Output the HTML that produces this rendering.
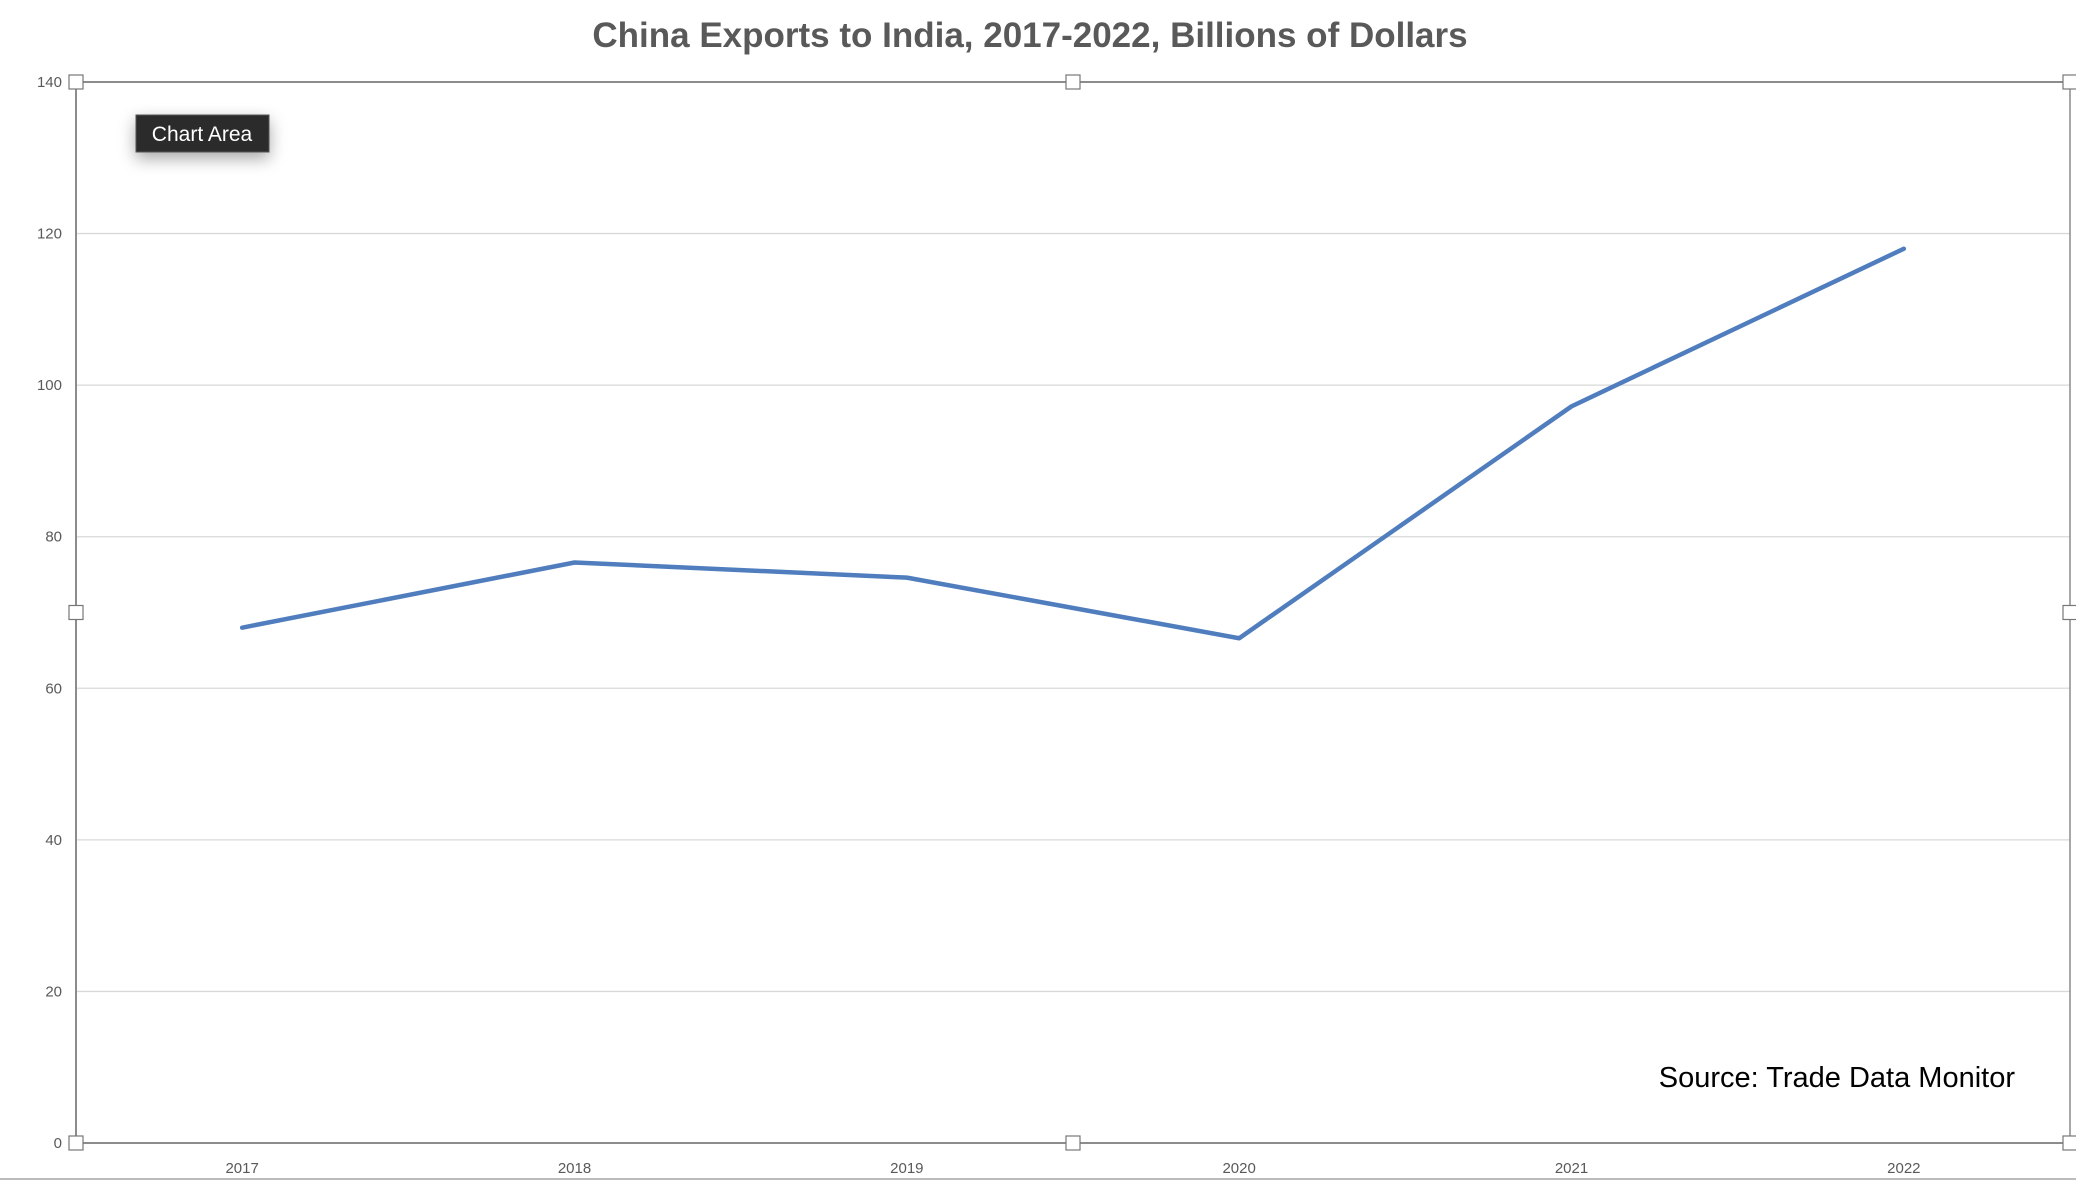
<!DOCTYPE html>
<html><head><meta charset="utf-8"><style>
html,body{margin:0;padding:0;background:#fff;}
svg{display:block;font-family:"Liberation Sans",sans-serif;}
</style></head><body>
<svg id="chart" width="2076" height="1184" viewBox="0 0 2076 1184">
<text x="1030" y="47" text-anchor="middle" font-size="35" font-weight="bold" fill="#595959">China Exports to India, 2017-2022, Billions of Dollars</text>
<g id="grid"></g>
<g id="axes"></g>
<g id="series"></g>
<text x="2015" y="1087" text-anchor="end" font-size="29" fill="#000">Source: Trade Data Monitor</text>
<g>
<rect x="136" y="115" width="133" height="37" fill="#2b2b2b" stroke="#555" stroke-width="1" style="filter:drop-shadow(0 6px 8px rgba(0,0,0,0.35))"></rect>
<text x="202" y="141" text-anchor="middle" font-size="21" fill="#fff">Chart Area</text>
</g>
<line x1="0" y1="1179" x2="2076" y2="1179" stroke="#bbb" stroke-width="2"/>
</svg>
<script>
const categories=["2017","2018","2019","2020","2021","2022"];
const exportsValues=[68.0,76.6,74.6,66.6,97.2,118.0];
const yTicks=[0,20,40,60,80,100,120,140];
const NS="http://www.w3.org/2000/svg";
const L=76,R=2070,T=82,B=1143,yMax=140;
function y(v){return B-(v/yMax)*(B-T);}
function x(i){const w=(R-L)/categories.length;return L+w*(i+0.5);}
function mk(tag,attrs,parent){const e=document.createElementNS(NS,tag);for(const k in attrs)e.setAttribute(k,attrs[k]);parent.appendChild(e);return e;}
const grid=document.getElementById('grid'),axes=document.getElementById('axes'),series=document.getElementById('series');
yTicks.forEach(t=>{
 const ln=mk('line',{x1:L,x2:R,y1:y(t),y2:y(t),stroke:(t===0||t===yMax)?'#8c8c8c':'#d9d9d9','stroke-width':(t===0||t===yMax)?2:1.3},grid);
 
 
 const tx=mk('text',{x:L-14,y:y(t)+5,'text-anchor':'end','font-size':15,fill:'#595959'},axes);
 tx.textContent=t;
 
 
});
const ya=mk('line',{x1:L,x2:L,y1:T,y2:B,stroke:'#8c8c8c','stroke-width':2},axes);


const ra=mk('line',{x1:R,x2:R,y1:T,y2:B,stroke:'#8c8c8c','stroke-width':1.5},axes);


categories.forEach((c,i)=>{
 const tx=mk('text',{x:x(i),y:B+30,'text-anchor':'middle','font-size':15,fill:'#595959'},axes);
 tx.textContent=c;
 
 
});
const pts=exportsValues.map((v,i)=>x(i)+','+y(v)).join(' ');
const pl=mk('polyline',{points:pts,fill:'none',stroke:'#4f7dbd','stroke-width':4.5,'stroke-linejoin':'round','stroke-linecap':'round'},series);


[[L,T],[(L+R)/2,T],[R,T],[L,(T+B)/2],[R,(T+B)/2],[L,B],[(L+R)/2,B],[R,B]].forEach(p=>{
 const h=mk('rect',{x:p[0]-7,y:p[1]-7,width:14,height:14,fill:'#fff',stroke:'#777','stroke-width':1.2},axes);
 
 
});
</script>
</body></html>
